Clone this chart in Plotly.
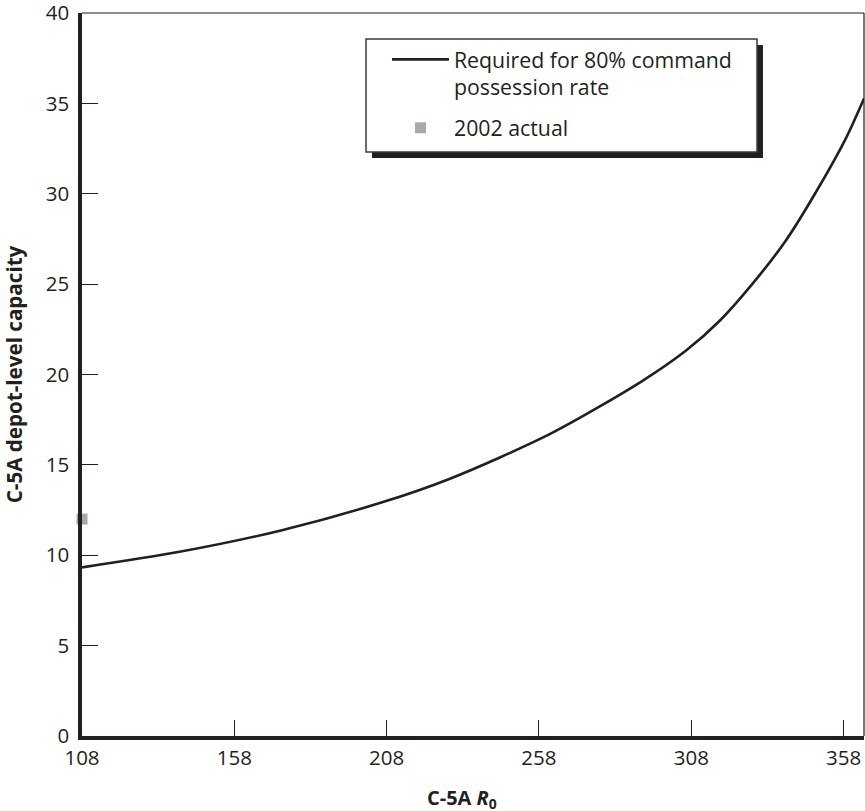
import plotly.graph_objects as go

# Data
r0_values = [108, 140, 173, 206, 229, 262, 292, 306.5, 317.5, 328, 339, 350, 359, 364.7]
capacity_required = [9.33, 10.19, 11.36, 12.9, 14.25, 16.74, 19.65, 21.35, 23.0, 25.0, 27.4, 30.4, 33.15, 35.27]
actual_x = [108]
actual_y = [12]
x_ticks = [108, 158, 208, 258, 308, 358]
y_ticks = [0, 5, 10, 15, 20, 25, 30, 35, 40]

FONT = "Open Sans"
DARK = "#231f20"

fig = go.Figure()
fig.add_trace(go.Scatter(
    x=r0_values, y=capacity_required, mode="lines",
    line=dict(color=DARK, width=2.6, shape="spline", smoothing=0.8),
    name="Required for 80% command<br>possession rate", legendgroup="g1",
))
fig.add_trace(go.Scatter(
    x=actual_x, y=actual_y, mode="markers",
    marker=dict(symbol="square", size=11, color="#a7a9ac"),
    name="2002 actual", cliponaxis=False, legendgroup="g2",
))

# thin top/right frame
fig.add_shape(type="line", xref="paper", yref="paper", x0=0, x1=1, y0=1, y1=1,
              line=dict(color=DARK, width=1.2))
fig.add_shape(type="line", xref="paper", yref="paper", x0=1, x1=1, y0=0, y1=1,
              line=dict(color=DARK, width=1.2))
# legend box with drop shadow
fig.add_shape(type="rect", xref="paper", yref="paper",
              x0=0.3708, x1=0.8708, y0=0.7994, y1=0.9557,
              fillcolor=DARK, line=dict(width=0), layer="above")
fig.add_shape(type="rect", xref="paper", yref="paper",
              x0=0.3632, x1=0.8632, y0=0.8077, y1=0.9640,
              fillcolor="white", line=dict(color="#3a3a3a", width=1.5), layer="above")

# x-axis title
fig.add_annotation(text="<b>C-5A <i>R</i><sub>0</sub></b>", xref="paper", yref="paper",
                   x=0.4853, y=-0.063, xanchor="center", yanchor="top", showarrow=False,
                   font=dict(family=FONT, size=20, color=DARK))

fig.update_layout(
    width=865, height=811,
    margin=dict(l=82, r=1, t=13, b=75),
    paper_bgcolor="white", plot_bgcolor="white",
    font=dict(family=FONT, size=20.5, color=DARK),
    showlegend=True,
    legend=dict(
        x=0.390, y=0.964, xanchor="left", yanchor="top",
        bgcolor="rgba(0,0,0,0)", borderwidth=0,
        font=dict(family=FONT, size=21.3, color=DARK),
        itemwidth=57, tracegroupgap=10, valign="top",
    ),
    xaxis=dict(
        range=[108, 364.7], tickmode="array", tickvals=x_ticks,
        ticks="inside", ticklen=16, tickwidth=1.2, tickcolor=DARK,
        showline=True, linewidth=3.8, linecolor=DARK,
        showgrid=False, zeroline=False, automargin=False,
        ticklabeloverflow="allow",
        tickfont=dict(family=FONT, size=20.5, color=DARK),
    ),
    yaxis=dict(
        range=[0, 40], tickmode="array", tickvals=y_ticks,
        ticks="inside", ticklen=16, tickwidth=1.2, tickcolor=DARK,
        showline=True, linewidth=3.5, linecolor=DARK,
        showgrid=False, zeroline=False, automargin=False,
        ticklabeloverflow="allow", ticklabelstandoff=5,
        tickfont=dict(family=FONT, size=20.5, color=DARK),
        title=dict(text="<b>C-5A depot-level capacity</b>", standoff=28,
                   font=dict(family=FONT, size=20.6, color=DARK)),
    ),
)

fig.write_html("out.html", config={"displayModeBar": False},
               post_script="document.body.style.margin='0';")
